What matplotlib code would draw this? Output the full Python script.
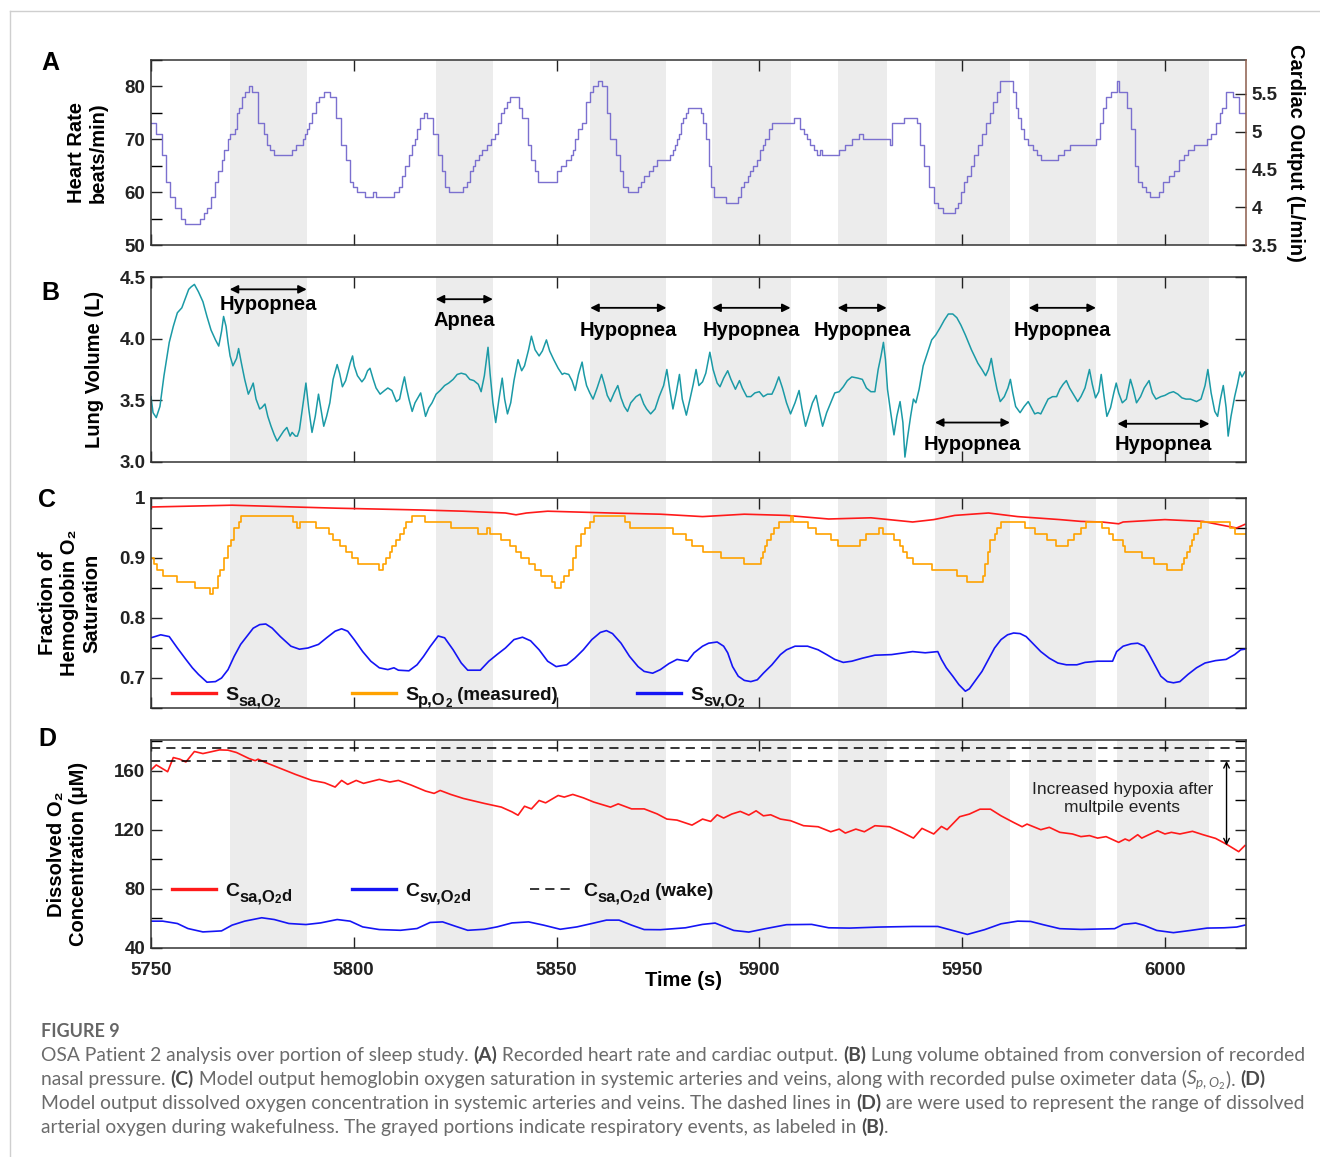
import matplotlib
matplotlib.use("Agg")
import matplotlib.pyplot as plt
from matplotlib.lines import Line2D
from matplotlib.ticker import MultipleLocator, FormatStrFormatter

plt.rcParams['font.family'] = ['Liberation Sans', 'DejaVu Sans']
plt.rcParams['mathtext.fontset'] = 'custom'
plt.rcParams['mathtext.bf'] = 'Liberation Sans:bold'
plt.rcParams['mathtext.rm'] = 'Lato'
plt.rcParams['mathtext.it'] = 'Lato:italic'

# ---- data ----
event_start = [5769.4, 5820.2, 5858.3, 5888.4, 5919.3, 5943.3, 5966.4, 5988.3]
event_end = [5788.4, 5834.3, 5877.1, 5907.7, 5931.4, 5961.8, 5983.0, 6011.0]
event_label = ['Hypopnea', 'Apnea', 'Hypopnea', 'Hypopnea', 'Hypopnea',
               'Hypopnea', 'Hypopnea', 'Hypopnea']
event_arrow_y = [4.40, 4.32, 4.25, 4.25, 4.25, 3.32, 4.25, 3.31]
event_text_y = [4.28, 4.15, 4.07, 4.07, 4.07, 3.14, 4.07, 3.14]

# A: heart rate (step signal)
hr_time = [5750.0, 5751.3, 5752.7, 5753.6, 5754.7, 5755.9, 5757.3, 5758.3, 5762.0, 5763.0,
           5763.8, 5764.8, 5765.9, 5766.6, 5767.4, 5768.1, 5769.0, 5769.5, 5770.7, 5771.3,
           5771.8, 5772.4, 5773.1, 5774.2, 5775.0, 5776.4, 5777.8, 5778.6, 5779.3, 5780.4,
           5784.8, 5785.8, 5787.4, 5788.0, 5788.5, 5789.0, 5789.7, 5790.8, 5791.5, 5792.6,
           5794.1, 5795.6, 5796.8, 5798.0, 5799.0, 5799.9, 5800.9, 5802.8, 5804.7, 5805.6,
           5809.8, 5811.1, 5812.0, 5812.7, 5813.6, 5814.4, 5815.1, 5815.6, 5816.4, 5817.2,
           5818.1, 5819.5, 5820.8, 5821.7, 5822.6, 5823.5, 5827.0, 5827.9, 5828.6, 5829.3,
           5830.0, 5830.9, 5831.7, 5832.8, 5833.9, 5834.8, 5835.6, 5836.4, 5837.0, 5837.7,
           5838.5, 5840.7, 5841.6, 5842.9, 5843.8, 5844.7, 5845.4, 5850.1, 5851.1, 5852.4,
           5853.5, 5854.0, 5854.5, 5855.4, 5856.3, 5857.3, 5858.2, 5859.0, 5860.2, 5861.3,
           5862.5, 5863.3, 5864.6, 5865.7, 5866.4, 5867.5, 5870.1, 5870.8, 5871.6, 5872.7,
           5873.7, 5874.8, 5877.9, 5878.7, 5879.2, 5879.7, 5880.3, 5880.8, 5881.3, 5882.0,
           5882.3, 5885.5, 5886.0, 5886.8, 5887.5, 5888.0, 5888.9, 5891.7, 5894.8, 5895.5,
           5896.3, 5897.1, 5897.7, 5898.4, 5899.5, 5900.2, 5900.8, 5901.5, 5902.4, 5903.1,
           5908.6, 5910.0, 5910.9, 5911.7, 5912.4, 5913.4, 5914.3, 5915.0, 5915.5, 5919.7,
           5921.2, 5922.8, 5924.5, 5925.6, 5932.1, 5932.8, 5935.7, 5938.9, 5939.7, 5940.7,
           5941.8, 5943.0, 5944.0, 5945.3, 5948.2, 5949.0, 5949.7, 5950.5, 5951.3, 5952.3,
           5952.9, 5953.9, 5954.9, 5956.0, 5957.0, 5957.5, 5958.6, 5959.4, 5962.5, 5963.2,
           5963.7, 5964.5, 5965.3, 5966.3, 5967.4, 5968.4, 5969.4, 5973.6, 5975.2, 5976.7,
           5982.9, 5984.0, 5984.7, 5985.5, 5986.6, 5988.1, 5988.8, 5990.7, 5991.7, 5992.6,
           5993.3, 5994.3, 5995.4, 5996.4, 5998.5, 5999.5, 6001.1, 6002.3, 6003.4, 6004.7,
           6005.7, 6007.3, 6010.4, 6011.4, 6012.5, 6013.5, 6014.0, 6015.1, 6016.8, 6018.2,
           6020.0]
hr_bpm = [73, 71, 67, 62, 59, 57, 55, 54, 55, 56,
          57, 59, 62, 64, 66, 68, 70, 71, 72, 75,
          76, 78, 79, 80, 79, 73, 71, 69, 68, 67,
          68, 69, 70, 71, 72, 73, 75, 77, 78, 79,
          78, 74, 69, 66, 62, 61, 60, 59, 60, 59,
          60, 61, 63, 65, 67, 69, 70, 72, 74, 75,
          74, 71, 67, 64, 61, 60, 61, 62, 64, 65,
          66, 67, 68, 69, 70, 71, 73, 75, 76, 77,
          78, 76, 74, 69, 66, 64, 62, 64, 65, 66,
          67, 68, 70, 72, 73, 77, 79, 80, 81, 80,
          75, 70, 67, 64, 61, 60, 61, 62, 63, 64,
          65, 66, 67, 68, 69, 70, 71, 73, 74, 75,
          76, 75, 73, 70, 65, 61, 59, 58, 59, 61,
          62, 63, 64, 65, 66, 68, 69, 70, 72, 73,
          74, 72, 71, 70, 69, 68, 67, 68, 67, 68,
          69, 70, 71, 70, 69, 73, 74, 73, 69, 65,
          61, 58, 57, 56, 57, 58, 60, 62, 63, 65,
          67, 69, 71, 73, 75, 77, 79, 81, 79, 76,
          74, 72, 70, 69, 68, 67, 66, 67, 68, 69,
          70, 73, 76, 78, 79, 81, 79, 76, 72, 65,
          62, 61, 60, 59, 60, 62, 63, 64, 66, 67,
          68, 69, 70, 71, 73, 75, 76, 79, 78, 75,
          75]
stroke_volume = 0.07  # L per beat, links the two y scales in A

# B: lung volume (L)
lv_time = [5750.0, 5750.5, 5751.3, 5752.2, 5753.2, 5754.5, 5755.5, 5756.5, 5757.6, 5758.4,
           5759.3, 5759.9, 5760.7, 5761.7, 5762.8, 5763.8, 5764.8, 5765.9, 5766.7, 5767.4,
           5767.9, 5768.5, 5769.0, 5769.5, 5770.2, 5771.1, 5771.6, 5772.3, 5773.1, 5774.0,
           5774.7, 5775.2, 5775.9, 5776.8, 5777.3, 5778.1, 5778.8, 5779.6, 5780.4, 5781.1,
           5781.9, 5782.7, 5783.5, 5784.3, 5784.8, 5785.6, 5786.1, 5786.6, 5787.4, 5788.2,
           5788.9, 5789.7, 5790.5, 5791.3, 5791.8, 5792.6, 5793.3, 5794.1, 5794.9, 5795.9,
           5796.5, 5797.2, 5798.0, 5799.1, 5799.7, 5800.1, 5800.9, 5802.0, 5802.7, 5803.4,
           5804.0, 5804.8, 5805.5, 5806.5, 5807.6, 5808.4, 5809.4, 5810.5, 5811.3, 5812.0,
           5812.5, 5813.0, 5813.6, 5814.4, 5815.1, 5815.8, 5816.5, 5817.0, 5817.7, 5818.5,
           5819.3, 5820.3, 5821.3, 5822.4, 5823.4, 5824.5, 5825.5, 5826.5, 5827.6, 5828.6,
           5829.6, 5830.7, 5831.4, 5832.2, 5833.1, 5833.6, 5834.3, 5835.0, 5835.8, 5836.6,
           5837.2, 5837.9, 5838.7, 5839.5, 5840.5, 5841.4, 5842.1, 5843.1, 5843.8, 5844.7,
           5845.7, 5846.5, 5847.5, 5848.3, 5849.3, 5850.4, 5851.4, 5851.9, 5853.0, 5853.8,
           5854.6, 5855.4, 5856.3, 5856.8, 5857.4, 5858.2, 5859.0, 5860.0, 5861.1, 5861.8,
           5862.5, 5863.3, 5864.2, 5865.1, 5865.9, 5866.7, 5867.5, 5868.3, 5869.6, 5870.6,
           5871.5, 5872.2, 5873.2, 5874.3, 5875.3, 5876.4, 5877.2, 5877.9, 5878.7, 5879.5,
           5880.3, 5881.0, 5882.0, 5882.9, 5883.7, 5884.4, 5885.1, 5886.0, 5886.8, 5887.8,
           5888.6, 5889.6, 5890.3, 5891.2, 5892.2, 5893.0, 5894.1, 5895.1, 5895.8, 5896.9,
           5897.9, 5898.9, 5900.0, 5901.0, 5902.0, 5903.1, 5903.8, 5904.8, 5905.7, 5906.7,
           5907.7, 5908.8, 5909.8, 5910.5, 5911.4, 5912.4, 5913.1, 5914.0, 5914.8, 5915.6,
           5916.6, 5917.6, 5918.6, 5919.7, 5920.7, 5921.7, 5922.8, 5924.3, 5925.4, 5926.4,
           5927.5, 5928.5, 5929.3, 5930.0, 5930.6, 5931.1, 5931.6, 5932.4, 5933.2, 5933.9,
           5934.7, 5935.4, 5935.9, 5936.6, 5937.3, 5938.0, 5938.6, 5939.4, 5940.4, 5941.4,
           5942.5, 5943.5, 5944.6, 5945.6, 5946.6, 5947.7, 5948.7, 5949.7, 5950.8, 5952.3,
           5953.9, 5954.9, 5955.8, 5956.5, 5957.2, 5957.8, 5958.6, 5959.4, 5960.4, 5961.3,
           5961.9, 5962.5, 5963.2, 5964.3, 5965.3, 5966.3, 5967.1, 5967.9, 5968.7, 5969.4,
           5970.3, 5971.2, 5972.3, 5973.3, 5974.1, 5974.9, 5975.7, 5976.5, 5977.4, 5978.5,
           5979.3, 5980.3, 5981.4, 5982.1, 5982.9, 5983.7, 5984.3, 5985.0, 5985.7, 5986.6,
           5987.4, 5988.0, 5988.6, 5989.5, 5990.5, 5991.5, 5992.2, 5993.0, 5994.0, 5994.9,
           5996.1, 5996.9, 5997.8, 5999.0, 6000.0, 6001.1, 6002.1, 6003.2, 6004.2, 6005.2,
           6006.3, 6007.8, 6008.9, 6009.9, 6010.6, 6011.4, 6012.3, 6013.0, 6013.7, 6014.4,
           6015.1, 6015.6, 6016.3, 6017.2, 6017.9, 6018.5, 6019.0, 6019.7]
lv_litre = [3.53, 3.40, 3.36, 3.45, 3.70, 3.97, 4.10, 4.21, 4.25, 4.32,
            4.40, 4.42, 4.44, 4.38, 4.30, 4.18, 4.07, 3.99, 3.94, 4.06,
            4.18, 4.10, 3.97, 3.86, 3.78, 3.84, 3.92, 3.80, 3.67, 3.55,
            3.60, 3.64, 3.51, 3.43, 3.44, 3.47, 3.37, 3.29, 3.22, 3.17,
            3.21, 3.25, 3.28, 3.21, 3.24, 3.21, 3.21, 3.26, 3.45, 3.64,
            3.43, 3.24, 3.37, 3.55, 3.45, 3.29, 3.37, 3.48, 3.67, 3.79,
            3.72, 3.61, 3.66, 3.80, 3.86, 3.78, 3.70, 3.65, 3.68, 3.74,
            3.76, 3.67, 3.60, 3.55, 3.58, 3.60, 3.58, 3.49, 3.51, 3.62,
            3.69, 3.60, 3.51, 3.41, 3.48, 3.52, 3.56, 3.48, 3.37, 3.44,
            3.48, 3.55, 3.58, 3.62, 3.64, 3.67, 3.71, 3.72, 3.71, 3.67,
            3.66, 3.63, 3.57, 3.70, 3.93, 3.72, 3.48, 3.32, 3.51, 3.68,
            3.51, 3.39, 3.48, 3.66, 3.83, 3.74, 3.78, 3.91, 4.02, 3.91,
            3.86, 3.90, 3.99, 3.90, 3.83, 3.76, 3.71, 3.72, 3.71, 3.66,
            3.58, 3.71, 3.81, 3.71, 3.62, 3.56, 3.51, 3.60, 3.71, 3.63,
            3.54, 3.49, 3.56, 3.62, 3.52, 3.45, 3.41, 3.48, 3.53, 3.55,
            3.47, 3.43, 3.39, 3.43, 3.53, 3.62, 3.75, 3.59, 3.43, 3.56,
            3.71, 3.51, 3.38, 3.51, 3.63, 3.75, 3.62, 3.65, 3.72, 3.89,
            3.75, 3.64, 3.61, 3.68, 3.74, 3.67, 3.59, 3.66, 3.60, 3.53,
            3.53, 3.56, 3.57, 3.53, 3.55, 3.55, 3.60, 3.69, 3.60, 3.48,
            3.39, 3.48, 3.58, 3.44, 3.29, 3.40, 3.48, 3.54, 3.41, 3.29,
            3.40, 3.48, 3.56, 3.57, 3.61, 3.66, 3.69, 3.68, 3.67, 3.60,
            3.57, 3.57, 3.75, 3.86, 3.97, 3.83, 3.59, 3.40, 3.22, 3.37,
            3.49, 3.32, 3.04, 3.21, 3.37, 3.51, 3.48, 3.59, 3.78, 3.88,
            3.99, 4.03, 4.09, 4.15, 4.20, 4.20, 4.17, 4.11, 4.03, 3.91,
            3.80, 3.75, 3.70, 3.75, 3.84, 3.72, 3.59, 3.49, 3.53, 3.60,
            3.67, 3.56, 3.45, 3.40, 3.45, 3.49, 3.44, 3.39, 3.40, 3.39,
            3.45, 3.51, 3.53, 3.53, 3.59, 3.63, 3.66, 3.60, 3.55, 3.49,
            3.53, 3.60, 3.75, 3.63, 3.52, 3.57, 3.71, 3.53, 3.37, 3.44,
            3.56, 3.64, 3.56, 3.48, 3.51, 3.67, 3.59, 3.48, 3.53, 3.60,
            3.66, 3.56, 3.51, 3.53, 3.54, 3.56, 3.57, 3.55, 3.52, 3.51,
            3.51, 3.49, 3.51, 3.62, 3.75, 3.56, 3.41, 3.37, 3.51, 3.62,
            3.44, 3.21, 3.37, 3.53, 3.63, 3.73, 3.69, 3.73]

# C: hemoglobin saturation
ssa_time = [5750.0, 5770.0, 5795.9, 5816.7, 5827.0, 5837.4, 5840.0, 5842.6, 5847.8, 5853.0,
            5863.3, 5875.6, 5886.0, 5896.3, 5906.7, 5917.1, 5927.5, 5937.8, 5943.0, 5948.2,
            5956.5, 5963.7, 5974.1, 5979.3, 5984.5, 5988.6, 5989.7, 6000.0, 6009.4, 6014.6,
            6017.7, 6019.7]
ssa_frac = [0.985, 0.988, 0.983, 0.980, 0.978, 0.975, 0.972, 0.975, 0.978, 0.977,
            0.975, 0.973, 0.969, 0.973, 0.971, 0.965, 0.967, 0.960, 0.964, 0.971,
            0.975, 0.969, 0.964, 0.961, 0.960, 0.957, 0.960, 0.964, 0.961, 0.954,
            0.950, 0.956]

sp_time = [5750.0, 5750.8, 5751.6, 5752.9, 5756.5, 5760.9, 5764.5, 5765.3, 5766.4, 5767.1,
           5767.9, 5769.0, 5769.7, 5770.5, 5771.6, 5772.3, 5785.1, 5786.1, 5786.8, 5790.8,
           5793.9, 5794.9, 5796.5, 5798.0, 5799.6, 5801.1, 5806.3, 5807.1, 5807.9, 5808.9,
           5809.4, 5810.5, 5811.5, 5812.3, 5813.0, 5814.4, 5817.5, 5823.9, 5830.7, 5832.8,
           5833.5, 5836.4, 5838.5, 5840.0, 5841.3, 5843.1, 5844.7, 5846.2, 5848.8, 5849.7,
           5851.2, 5851.9, 5853.0, 5854.0, 5854.8, 5856.1, 5857.1, 5858.2, 5859.2, 5867.0,
           5868.1, 5878.7, 5882.0, 5883.4, 5886.0, 5890.6, 5896.3, 5900.5, 5901.0, 5901.5,
           5902.0, 5902.8, 5903.6, 5904.8, 5907.7, 5908.4, 5911.9, 5914.0, 5917.6, 5919.4,
           5924.9, 5926.4, 5929.5, 5930.4, 5933.2, 5934.7, 5935.5, 5936.3, 5937.8, 5942.5,
           5948.7, 5951.3, 5955.2, 5955.7, 5956.3, 5957.0, 5958.0, 5958.6, 5959.6, 5965.6,
           5967.9, 5971.0, 5973.1, 5976.2, 5977.7, 5979.3, 5980.5, 5984.5, 5986.3, 5987.1,
           5989.7, 5990.2, 5994.3, 5997.4, 6000.6, 6004.2, 6004.7, 6005.4, 6006.1, 6006.8,
           6007.3, 6008.1, 6008.9, 6016.1, 6017.2, 6020.0]
sp_frac = [0.90, 0.89, 0.88, 0.87, 0.86, 0.85, 0.84, 0.85, 0.87, 0.88,
           0.90, 0.92, 0.93, 0.95, 0.96, 0.97, 0.96, 0.95, 0.96, 0.95,
           0.94, 0.93, 0.92, 0.91, 0.90, 0.89, 0.88, 0.89, 0.90, 0.91,
           0.92, 0.93, 0.94, 0.95, 0.96, 0.97, 0.96, 0.95, 0.94, 0.95,
           0.94, 0.93, 0.92, 0.91, 0.90, 0.89, 0.88, 0.87, 0.86, 0.85,
           0.86, 0.87, 0.88, 0.90, 0.92, 0.94, 0.95, 0.96, 0.97, 0.96,
           0.95, 0.94, 0.93, 0.92, 0.91, 0.90, 0.89, 0.90, 0.91, 0.92,
           0.93, 0.94, 0.95, 0.96, 0.97, 0.96, 0.95, 0.94, 0.93, 0.92,
           0.93, 0.94, 0.95, 0.94, 0.93, 0.92, 0.91, 0.90, 0.89, 0.88,
           0.87, 0.86, 0.87, 0.89, 0.91, 0.93, 0.94, 0.95, 0.96, 0.95,
           0.94, 0.93, 0.92, 0.93, 0.94, 0.95, 0.96, 0.95, 0.94, 0.93,
           0.92, 0.91, 0.90, 0.89, 0.88, 0.89, 0.90, 0.91, 0.92, 0.93,
           0.94, 0.95, 0.96, 0.95, 0.94, 0.94]

ssv_time = [5750.0, 5752.4, 5754.5, 5756.5, 5758.6, 5760.2, 5761.7, 5763.8, 5765.9, 5767.4,
            5769.0, 5770.5, 5772.1, 5773.6, 5775.2, 5776.8, 5778.3, 5779.9, 5781.9, 5784.5,
            5786.6, 5788.7, 5791.3, 5793.3, 5795.4, 5797.0, 5798.5, 5800.1, 5802.2, 5804.2,
            5806.3, 5808.4, 5809.9, 5811.0, 5813.6, 5815.6, 5817.2, 5818.8, 5820.8, 5822.4,
            5824.5, 5826.5, 5828.1, 5831.2, 5833.3, 5835.3, 5837.4, 5839.5, 5841.6, 5843.6,
            5845.7, 5847.8, 5849.9, 5852.5, 5854.5, 5856.6, 5858.7, 5860.8, 5862.3, 5863.8,
            5865.9, 5868.0, 5870.1, 5871.6, 5873.7, 5875.6, 5877.7, 5879.7, 5882.3, 5883.9,
            5886.0, 5887.5, 5889.6, 5891.2, 5892.2, 5893.4, 5894.8, 5896.3, 5897.9, 5899.5,
            5901.0, 5903.1, 5905.2, 5906.7, 5908.8, 5911.9, 5914.5, 5916.6, 5918.6, 5920.7,
            5922.8, 5925.4, 5928.5, 5932.6, 5935.7, 5937.8, 5940.9, 5944.0, 5944.9, 5946.1,
            5947.7, 5949.2, 5950.8, 5951.8, 5953.4, 5954.9, 5956.5, 5958.0, 5959.6, 5961.2,
            5962.7, 5964.3, 5965.8, 5967.4, 5969.4, 5971.5, 5973.6, 5975.7, 5978.3, 5980.3,
            5983.4, 5987.1, 5988.1, 5989.7, 5991.7, 5993.3, 5994.9, 5995.9, 5997.5, 5999.0,
            6000.6, 6002.1, 6003.7, 6005.7, 6007.8, 6009.9, 6012.5, 6015.1, 6017.2, 6018.7,
            6019.7]
ssv_frac = [0.767, 0.772, 0.769, 0.750, 0.731, 0.717, 0.706, 0.693, 0.694, 0.700,
            0.714, 0.736, 0.756, 0.769, 0.783, 0.789, 0.790, 0.783, 0.769, 0.753,
            0.748, 0.750, 0.756, 0.767, 0.778, 0.782, 0.778, 0.764, 0.744, 0.728,
            0.717, 0.714, 0.717, 0.713, 0.712, 0.722, 0.736, 0.752, 0.770, 0.767,
            0.747, 0.725, 0.713, 0.713, 0.728, 0.739, 0.750, 0.764, 0.768, 0.762,
            0.747, 0.728, 0.719, 0.722, 0.733, 0.747, 0.764, 0.776, 0.779, 0.774,
            0.758, 0.736, 0.719, 0.711, 0.708, 0.714, 0.724, 0.731, 0.728, 0.742,
            0.753, 0.758, 0.760, 0.753, 0.742, 0.719, 0.703, 0.696, 0.694, 0.697,
            0.708, 0.722, 0.739, 0.747, 0.753, 0.753, 0.747, 0.739, 0.731, 0.726,
            0.728, 0.733, 0.738, 0.739, 0.742, 0.744, 0.742, 0.744, 0.731, 0.717,
            0.703, 0.689, 0.678, 0.682, 0.697, 0.711, 0.731, 0.750, 0.764, 0.772,
            0.775, 0.774, 0.769, 0.758, 0.744, 0.733, 0.725, 0.722, 0.722, 0.726,
            0.728, 0.728, 0.744, 0.753, 0.757, 0.758, 0.753, 0.742, 0.722, 0.703,
            0.694, 0.692, 0.694, 0.706, 0.717, 0.725, 0.729, 0.731, 0.739, 0.747,
            0.748]

# D: dissolved O2 (uM)
csa_time = [5750.0, 5751.3, 5754.1, 5755.5, 5757.1, 5758.6, 5760.7, 5762.8, 5764.8, 5766.9,
            5769.0, 5771.1, 5774.2, 5775.7, 5776.4, 5778.3, 5782.5, 5785.6, 5789.7, 5792.8,
            5795.4, 5797.0, 5798.5, 5800.6, 5802.4, 5806.3, 5808.9, 5811.0, 5814.1, 5817.7,
            5819.8, 5821.3, 5823.9, 5827.0, 5832.2, 5836.4, 5839.0, 5840.5, 5842.1, 5843.8,
            5845.7, 5847.3, 5850.4, 5851.9, 5854.0, 5856.6, 5859.2, 5863.3, 5865.2, 5868.5,
            5871.6, 5874.8, 5877.2, 5879.7, 5883.4, 5886.0, 5888.0, 5889.6, 5891.2, 5893.2,
            5895.3, 5897.4, 5899.2, 5901.0, 5902.8, 5905.2, 5907.7, 5910.9, 5914.5, 5917.6,
            5919.7, 5921.2, 5923.8, 5925.9, 5928.5, 5932.1, 5935.2, 5938.0, 5940.1, 5943.0,
            5944.9, 5946.3, 5949.4, 5951.8, 5954.4, 5957.0, 5959.6, 5962.7, 5964.8, 5966.0,
            5969.4, 5971.5, 5974.1, 5977.2, 5979.3, 5981.4, 5983.4, 5985.5, 5988.6, 5990.2,
            5991.2, 5993.3, 5994.3, 5995.9, 5998.2, 6000.0, 6001.6, 6003.7, 6006.8, 6009.4,
            6012.5, 6015.1, 6018.2, 6019.7]
csa_um = [160.7, 164.1, 159.5, 169.1, 168.0, 166.1, 173.2, 171.8, 173.0, 174.3,
          174.1, 172.5, 168.4, 167.0, 168.0, 165.7, 161.1, 157.7, 153.6, 152.0,
          149.1, 153.6, 150.9, 153.6, 151.6, 154.3, 152.5, 153.6, 150.5, 146.4,
          144.8, 146.8, 144.1, 141.4, 138.0, 135.5, 132.3, 130.0, 136.1, 134.3,
          140.0, 138.4, 143.4, 142.3, 144.1, 141.8, 138.9, 135.5, 137.7, 134.3,
          134.3, 130.9, 127.4, 126.7, 123.3, 127.4, 125.8, 130.3, 128.1, 130.8,
          132.6, 130.1, 133.0, 129.6, 130.3, 127.4, 126.3, 122.9, 122.2, 118.8,
          120.6, 117.9, 120.6, 118.8, 122.9, 122.2, 118.4, 114.5, 121.1, 117.3,
          122.4, 120.2, 129.0, 130.8, 134.1, 134.1, 129.6, 125.1, 122.2, 124.0,
          120.2, 121.8, 118.4, 117.3, 115.5, 116.2, 114.5, 115.5, 111.6, 113.9,
          112.7, 116.8, 114.5, 116.6, 119.5, 117.3, 118.4, 117.3, 119.1, 116.8,
          114.3, 110.5, 105.3, 109.4]

csv_time = [5750.0, 5752.9, 5756.5, 5759.1, 5762.8, 5767.4, 5770.0, 5773.1, 5777.3, 5780.4,
            5784.0, 5788.2, 5791.8, 5795.9, 5799.1, 5802.2, 5806.3, 5811.5, 5815.6, 5818.8,
            5821.9, 5825.0, 5828.1, 5832.2, 5835.3, 5839.0, 5843.1, 5846.8, 5850.9, 5855.0,
            5858.7, 5862.3, 5865.4, 5868.5, 5871.6, 5875.6, 5881.8, 5886.0, 5889.1, 5891.2,
            5893.7, 5897.4, 5901.5, 5906.7, 5912.9, 5917.1, 5922.3, 5929.5, 5937.8, 5944.0,
            5948.2, 5951.3, 5955.5, 5959.6, 5963.7, 5966.9, 5970.0, 5974.1, 5979.3, 5987.6,
            5989.7, 5992.8, 5994.9, 5998.0, 6002.1, 6006.3, 6010.4, 6014.6, 6017.7, 6019.7]
csv_um = [58.2, 58.2, 56.6, 53.2, 50.9, 51.6, 55.5, 58.2, 60.5, 59.3,
          56.6, 55.9, 57.0, 59.3, 58.2, 54.3, 52.5, 52.0, 53.2, 57.3,
          57.7, 54.8, 52.0, 52.7, 54.3, 57.0, 57.7, 55.5, 52.7, 54.3,
          56.6, 58.9, 58.9, 55.5, 52.5, 52.4, 53.7, 56.0, 56.9, 54.6,
          51.9, 50.8, 53.1, 55.8, 56.0, 53.7, 53.5, 54.2, 54.6, 54.6,
          51.5, 49.2, 52.4, 56.4, 58.2, 58.0, 55.8, 53.1, 52.6, 53.1,
          56.0, 56.9, 55.3, 51.9, 50.4, 51.9, 53.5, 53.7, 54.2, 55.5]

wake_range = [166.8, 175.5]  # dashed lines: dissolved arterial O2 while awake

RED = '#ff1a1a'
ORANGE = '#ffa200'
BLUE = '#1515f5'

# ---- figure ----
W, H = 1320, 1157
fig = plt.figure(figsize=(W / 100, H / 100), dpi=100)
renderer = fig.canvas.get_renderer()


def add_panel(top, bottom):
    return fig.add_axes([151 / W, 1 - bottom / H, 1095 / W, (bottom - top) / H])


ax_a = add_panel(60, 245)
ax_b = add_panel(277, 462)
ax_c = add_panel(498, 708)
ax_d = add_panel(740, 948)

TICK = 13.5
LABEL = 14.5
for ax in (ax_a, ax_b, ax_c, ax_d):
    ax.set_xlim(5750, 6020)
    ax.xaxis.set_major_locator(MultipleLocator(50))
    for s, e in zip(event_start, event_end):
        ax.axvspan(s, e, color='#ececec', lw=0, zorder=0)
    ax.tick_params(direction='in', length=8, width=1, top=True, right=True,
                   labelsize=TICK, pad=4, colors='#222222')
    for sp in ax.spines.values():
        sp.set_linewidth(1.1)
        sp.set_color('#333333')
    if ax is not ax_d:
        ax.tick_params(labelbottom=False)

bold = dict(fontweight='bold', fontsize=LABEL)

# A
ax_a.step(hr_time, hr_bpm, where='post', color='#7b70cf', lw=1.0)
ax_a.set_ylim(50, 85)
ax_a.set_yticks([50, 60, 70, 80])
ax_a.yaxis.set_minor_locator(MultipleLocator(5))
ax_a.tick_params(which='minor', direction='in', length=8, width=1, right=False)
ax_a.tick_params(right=False)
ax_a.spines['right'].set_visible(False)
ax_a.set_ylabel('Heart Rate\nbeats/min)', va='center', **bold)
ax_a.yaxis.set_label_coords(-0.058, 0.5)
ax_a2 = ax_a.twinx()
ax_a2.set_ylim(50 * stroke_volume, 85 * stroke_volume)
ax_a2.set_yticks([3.5, 4, 4.5, 5, 5.5])
ax_a2.yaxis.set_major_formatter(FormatStrFormatter('%g'))
ax_a2.tick_params(direction='in', length=8, width=1, labelsize=TICK, pad=4,
                  colors='#222222')
for sp in ax_a2.spines.values():
    sp.set_visible(False)
ax_a2.spines['right'].set_visible(True)
ax_a2.spines['right'].set_color('#8c5d4c')
ax_a2.spines['right'].set_linewidth(1.1)
ax_a2.set_ylabel('Cardiac Output (L/min)', rotation=270, va='center', **bold)
ax_a2.yaxis.set_label_coords(1.045, 0.5)

# B
ax_b.plot(lv_time, lv_litre, color='#1b9aa6', lw=1.1)
ax_b.set_ylim(3.0, 4.5)
ax_b.set_yticks([3.0, 3.5, 4.0, 4.5])
ax_b.yaxis.set_major_formatter(FormatStrFormatter('%.1f'))
ax_b.set_ylabel('Lung Volume (L)', va='center', **bold)
ax_b.yaxis.set_label_coords(-0.052, 0.5)

for s, e, name, ya, yt in zip(event_start, event_end, event_label, event_arrow_y, event_text_y):
    ax_b.annotate('', xy=(s, ya), xytext=(e, ya),
                  arrowprops=dict(arrowstyle='<|-|>', color='black', lw=1.3,
                                  mutation_scale=12, shrinkA=0, shrinkB=0))
    ax_b.text((s + e) / 2, yt, name, ha='center', va='center', **bold)

# C
ax_c.plot(ssa_time, ssa_frac, color=RED, lw=1.2)
ax_c.step(sp_time, sp_frac, where='post', color=ORANGE, lw=1.2)
ax_c.plot(ssv_time, ssv_frac, color=BLUE, lw=1.2)
ax_c.set_ylim(0.65, 1.0)
ax_c.set_yticks([0.7, 0.8, 0.9, 1.0])
ax_c.yaxis.set_minor_locator(MultipleLocator(0.05))
ax_c.tick_params(which='minor', direction='in', length=8, width=1, right=True)
ax_c.yaxis.set_major_formatter(FormatStrFormatter('%g'))
ax_c.set_ylabel('Fraction of\nHemoglobin O₂\nSaturation', va='center', **bold)
ax_c.yaxis.set_label_coords(-0.074, 0.5)

# D
ax_d.plot(csa_time, csa_um, color=RED, lw=1.2)
ax_d.plot(csv_time, csv_um, color=BLUE, lw=1.2)
for w in wake_range:
    ax_d.axhline(w, color='black', lw=1.1, dashes=(6, 4))
ax_d.set_ylim(40, 181)
ax_d.set_yticks([40, 80, 120, 160])
ax_d.yaxis.set_minor_locator(MultipleLocator(20))
ax_d.tick_params(which='minor', direction='in', length=8, width=1, right=True)
ax_d.tick_params(axis='x', pad=10)
ax_d.set_ylabel('Dissolved O₂\nConcentration (μM)', va='center', **bold)
ax_d.yaxis.set_label_coords(-0.076, 0.45)
ax_d.set_xlabel('Time (s)', va='center', **bold)
ax_d.xaxis.set_label_coords(0.486, -0.155)
ax_d.annotate('', xy=(6015.2, wake_range[0]), xytext=(6015.2, 109.5),
              arrowprops=dict(arrowstyle='<->', color='black', lw=1.0,
                              mutation_scale=10, shrinkA=0, shrinkB=0))
ax_d.text(5989.5, 141.5, 'Increased hypoxia after\nmultpile events', ha='center',
          va='center', fontsize=12.5, linespacing=1.25, color='#222222')

for ax in (ax_a, ax_a2, ax_b, ax_c, ax_d):
    for lab in ax.get_xticklabels() + ax.get_yticklabels():
        lab.set_fontweight('bold')


# legends with large subscripts, drawn as runs of text
def run_text(x, y, parts, color='#111111', family=None, weight='bold'):
    """parts: (text, size, dy_px, weight or None). x, y in pixels from top-left."""
    for text, size, dy, wt in parts:
        kw = dict(fontsize=size, fontweight=wt or weight, color=color, va='baseline', ha='left')
        if family:
            kw['family'] = family
        t = fig.text(x / W, 1 - (y + dy) / H, text, **kw)
        x += t.get_window_extent(renderer).width
    return x


def legend_entry(x, y, line_kw, parts):
    fig.add_artist(Line2D([x / W, (x + 44) / W], [1 - y / H] * 2, **line_kw))
    run_text(x + 53, y + 7, parts)


def sub_parts(main, sub, tail=''):
    parts = [(main, 14, 0, None), (sub, 12, 5, None), ('2', 8.5, 7, None)]
    return parts


c_entries = [
    (172, dict(color=RED, lw=2.4), sub_parts('S', 'sa,O')),
    (352, dict(color=ORANGE, lw=2.4), sub_parts('S', 'p,O') + [(' (measured)', 13.5, 0, None)]),
    (637, dict(color=BLUE, lw=2.4), sub_parts('S', 'sv,O')),
]
for x, kw, parts in c_entries:
    legend_entry(x, 693, kw, parts)

d_entries = [
    (172, dict(color=RED, lw=2.4), sub_parts('C', 'sa,O') + [('d', 12, 5, None)]),
    (352, dict(color=BLUE, lw=2.4), sub_parts('C', 'sv,O') + [('d', 12, 5, None)]),
    (530, dict(color='black', lw=1.1, dashes=(6, 4)),
     sub_parts('C', 'sa,O') + [('d', 12, 5, None), (' (wake)', 13.5, 0, None)]),
]
for x, kw, parts in d_entries:
    legend_entry(x, 889, kw, parts)

# panel letters
for letter, (x, y) in zip('ABCD', [(50, 63), (50, 293), (47, 500), (47, 739)]):
    fig.text(x / W, 1 - y / H, letter, fontsize=18, fontweight='bold',
             ha='center', va='center')

# frame lines of the page
fig.add_artist(Line2D([10 / W, 1], [1 - 11 / H, 1 - 11 / H], color='#cfcfcf', lw=1))
fig.add_artist(Line2D([10 / W, 10 / W], [0, 1 - 11 / H], color='#cfcfcf', lw=1))

# caption
CAP = 13.9
GREY = '#6b6b6b'
DARK = '#4a4a4a'


def caption_line(x, y, parts):
    for text, weight in parts:
        t = fig.text(x / W, 1 - y / H, text, fontsize=CAP, family='Lato',
                     fontweight=weight, color=DARK if weight == 'bold' else GREY,
                     va='baseline', ha='left')
        x += t.get_window_extent(renderer).width


fig.text(41 / W, 1 - 1037 / H, 'FIGURE 9', fontsize=13, family='Lato',
         fontweight='bold', color='#666666', va='baseline')
cap_lines = [
    [('OSA Patient 2 analysis over portion of sleep study. ', 'normal'), ('(A)', 'bold'),
     (' Recorded heart rate and cardiac output. ', 'normal'), ('(B)', 'bold'),
     (' Lung volume obtained from conversion of recorded', 'normal')],
    [('nasal pressure. ', 'normal'), ('(C)', 'bold'),
     (' Model output hemoglobin oxygen saturation in systemic arteries and veins, along with recorded pulse oximeter data (', 'normal'),
     (r'$S_{p,O_2}$', 'normal'), ('). ', 'normal'), ('(D)', 'bold')],
    [('Model output dissolved oxygen concentration in systemic arteries and veins. The dashed lines in ', 'normal'),
     ('(D)', 'bold'), (' are were used to represent the range of dissolved', 'normal')],
    [('arterial oxygen during wakefulness. The grayed portions indicate respiratory events, as labeled in ', 'normal'),
     ('(B)', 'bold'), ('.', 'normal')],
]
for i, parts in enumerate(cap_lines):
    caption_line(41, 1061 + 24 * i, parts)

fig.savefig('out.png', dpi=100)
